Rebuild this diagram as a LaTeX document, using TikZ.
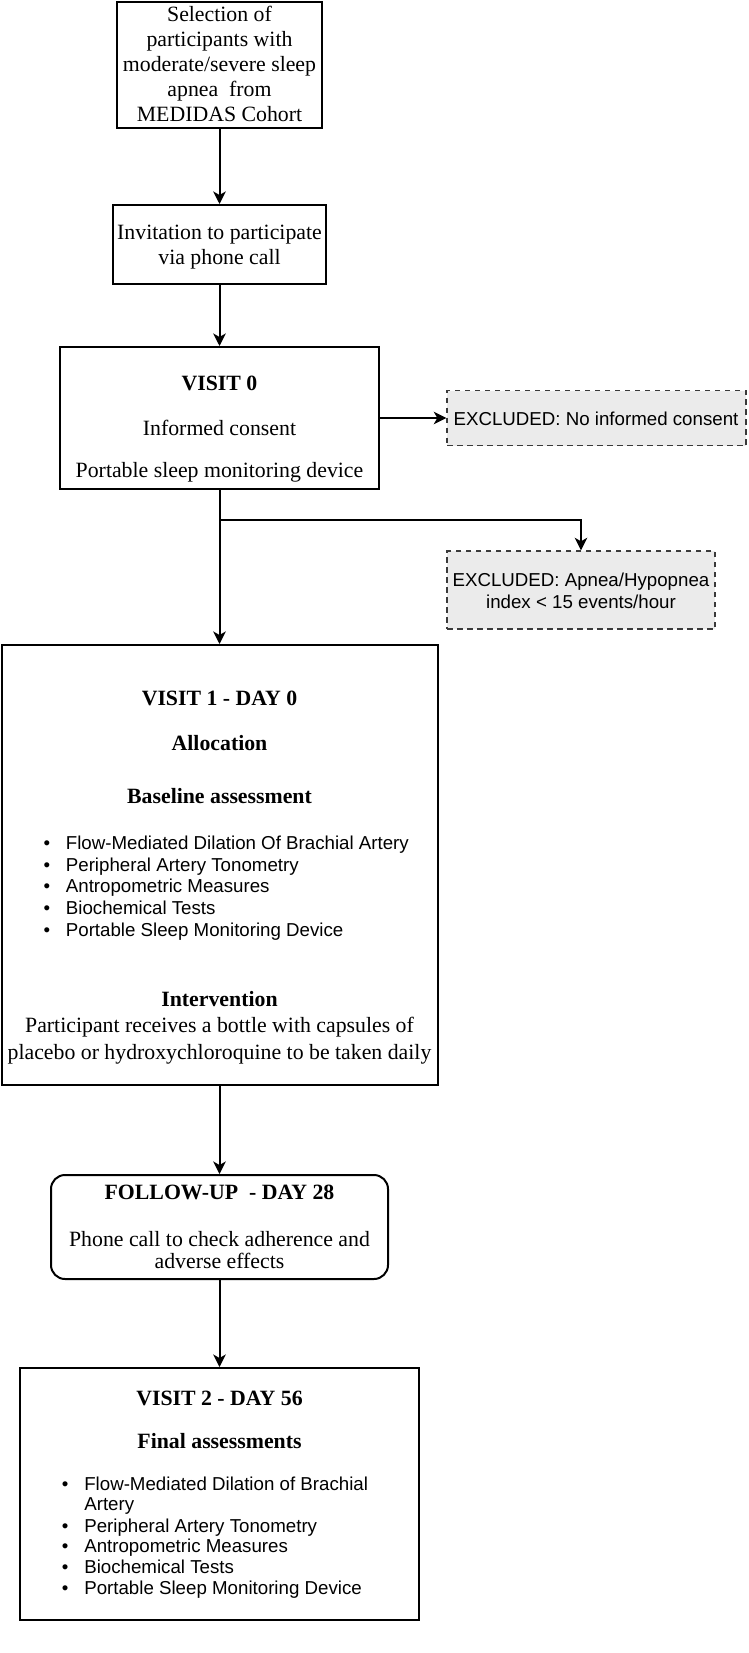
\documentclass[tikz,border=0pt]{standalone}
\usepackage{fontspec}
\setmainfont{Liberation Serif}
\setsansfont{Liberation Sans}
\usetikzlibrary{arrows.meta}
\definecolor{exfill}{HTML}{EBEBEB}
\definecolor{exline}{HTML}{3A3A3A}
\newcommand\bulitem{\makebox[22.4pt][l]{•}}
\begin{document}
\begin{tikzpicture}[x=1pt,y=-1pt,
  box/.style={draw=black, line width=2pt, inner sep=0pt},
  excl/.style={draw=exline, fill=exfill, dash pattern=on 5.5pt off 4.5pt, line width=1.4pt, inner sep=0pt},
  ser/.style={font=\fontsize{21.8}{25}\selectfont, anchor=base, inner sep=0pt},
  serb/.style={font=\fontsize{21.8}{25}\selectfont\bfseries, anchor=base, inner sep=0pt},
  san/.style={font=\sffamily\fontsize{18.7}{21.5}\selectfont, anchor=base, inner sep=0pt},
  item/.style={font=\sffamily\fontsize{18.7}{21.5}\selectfont, anchor=base west, inner sep=0pt},
  arr/.style={line width=2pt, -{Stealth[length=12.5pt,width=12.5pt,inset=3.5pt]}}]
\useasboundingbox (0,0) rectangle (748,1653);

% boxes
\node[box, minimum width=205pt, minimum height=126pt] (b1) at (219.5,65) {};
\node[box, minimum width=213pt, minimum height=79pt] (b2) at (219.5,244.5) {};
\node[box, minimum width=319pt, minimum height=142pt] (b3) at (219.5,418) {};
\node[excl, minimum width=299pt, minimum height=55pt] (e1) at (596.5,418) {};
\node[excl, minimum width=268pt, minimum height=78pt] (e2) at (581,590) {};
\node[box, minimum width=436pt, minimum height=440pt] (b4) at (219.5,865) {};
\node[box, rounded corners=14pt, minimum width=337pt, minimum height=104pt] (fu) at (219.5,1227) {};
\node[box, minimum width=399pt, minimum height=252pt] (b5) at (219.5,1494) {};

% box 1 text
\node[ser] (t1a) at (219.5,21.7) {Selection of};
\node[ser] (t1b) at (219.5,46.7) {participants with};
\node[ser] (t1c) at (219.5,72) {moderate/severe sleep};
\node[ser] (t1d) at (219.5,96.7) {apnea\ \ from};
\node[ser] (t1e) at (219.5,122) {MEDIDAS Cohort};

% box 2 text
\node[ser] (t2a) at (219.5,240) {Invitation to participate};
\node[ser] (t2b) at (219.5,265) {via phone call};

% box 3 text
\node[serb] (t3a) at (219.5,390.7) {VISIT 0};
\node[ser] (t3b) at (219.5,435) {Informed consent};
\node[ser] (t3c) at (219.5,477.7) {Portable sleep monitoring device};

% exclusion texts
\node[san] (te1) at (596,425) {EXCLUDED: No informed consent};
\node[san] (te2a) at (581,586.7) {EXCLUDED: Apnea/Hypopnea};
\node[san] (te2b) at (581,608) {index < 15 events/hour};

% box 4 text
\node[serb] (t4a) at (219.5,705) {VISIT 1 - DAY 0};
\node[serb] (t4b) at (219.5,750) {Allocation};
\node[serb] (t4c) at (219.5,803.3) {Baseline assessment};
\node[item] (t4d) at (43.3,849.3) {\bulitem Flow-Mediated Dilation Of Brachial Artery};
\node[item] (t4e) at (43.3,871) {\bulitem Peripheral Artery Tonometry};
\node[item] (t4f) at (43.3,892.8) {\bulitem Antropometric Measures};
\node[item] (t4g) at (43.3,914.7) {\bulitem Biochemical Tests};
\node[item] (t4h) at (43.3,936.5) {\bulitem Portable Sleep Monitoring Device};
\node[serb] (t4i) at (219.5,1006) {Intervention};
\node[ser] (t4j) at (219.5,1032.7) {Participant receives a bottle with capsules of};
\node[ser] (t4k) at (219.5,1059.3) {placebo or hydroxychloroquine to be taken daily};

% follow-up text
\node[serb] (tfa) at (219.5,1199) {FOLLOW-UP\ \ - DAY 28};
\node[ser] (tfb) at (219.5,1246) {Phone call to check adherence and};
\node[ser] (tfc) at (219.5,1268.3) {adverse effects};

% box 5 text
\node[serb] (t5a) at (219.5,1405) {VISIT 2 - DAY 56};
\node[serb] (t5b) at (219.5,1448.3) {Final assessments};
\node[item] (t5c) at (61.7,1490.7) {\bulitem Flow-Mediated Dilation of Brachial};
\node[item] (t5d) at (84.1,1510.9) {Artery};
\node[item] (t5e) at (61.7,1532.3) {\bulitem Peripheral Artery Tonometry};
\node[item] (t5f) at (61.7,1552.9) {\bulitem Antropometric Measures};
\node[item] (t5g) at (61.7,1573.5) {\bulitem Biochemical Tests};
\node[item] (t5h) at (61.7,1594.3) {\bulitem Portable Sleep Monitoring Device};

% connectors
\coordinate (br) at (219.5,520);
\draw[arr] (b1) -- (b2);
\draw[arr] (b2) -- (b3);
\draw[arr] (b3) -- (b4);
\draw[arr] (b3.east) -- (e1.west);
\draw[arr] (br) -| (e2.north);
\draw[arr] (b4) -- (fu);
\draw[arr] (fu) -- (b5);
\end{tikzpicture}
\end{document}
